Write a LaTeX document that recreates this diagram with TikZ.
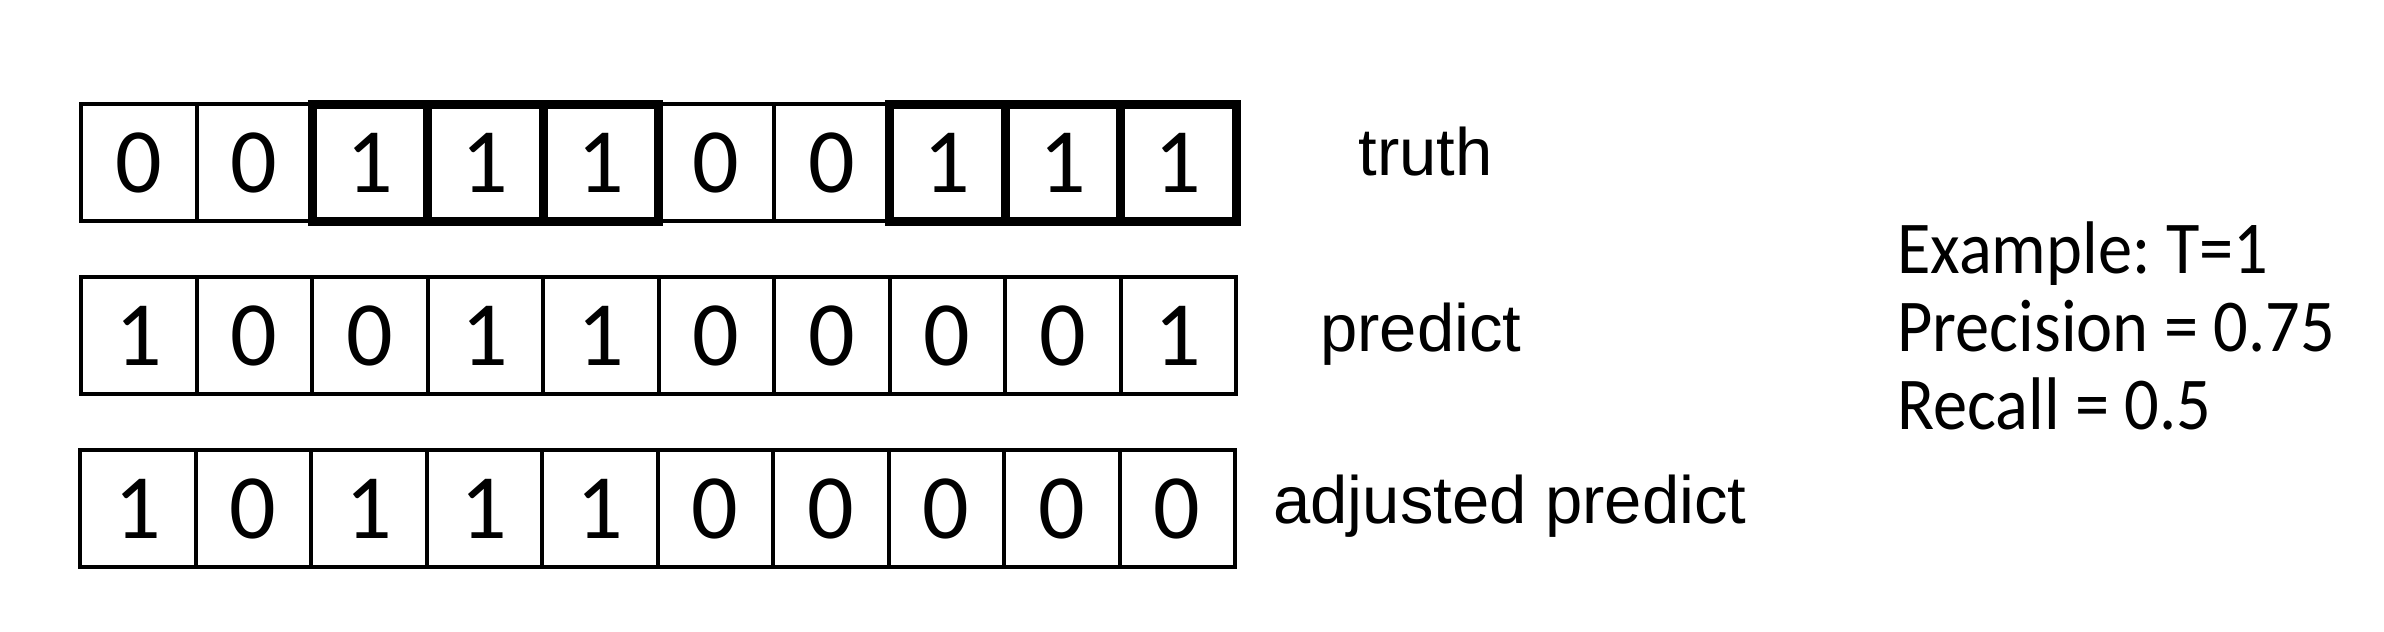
\documentclass[tikz,border=0pt]{standalone}
\usepackage{fontspec}
\usepackage{graphicx}
\setmainfont{Carlito}
\newfontfamily\labelfont{Liberation Sans}
\frenchspacing
\begin{document}
\begin{tikzpicture}[x=0.5pt,y=-0.5pt,
  cell/.style={draw=black, line width=2pt, rectangle, inner sep=0pt,
    minimum width=57.75pt, minimum height=58.5pt,
    font=\fontsize{46}{55}\selectfont},
  thickcell/.style={cell, line width=4.5pt},
  rowlabel/.style={anchor=base west, inner sep=0pt,
    font=\labelfont\fontsize{33.5}{40}\selectfont},
  info/.style={anchor=base west, inner sep=0pt,
    font=\fontsize{34.2}{40}\selectfont}]
\useasboundingbox (0,0) rectangle (2384,632);
\fill[white] (0,0) rectangle (2384,632);
% truth row
\foreach \v [count=\i] in {0,0,1,1,1,0,0,1,1,1} {
  \node[cell] (t\i) at ({81+115.5*(\i-0.5)},162.5) {\v};
}
\foreach \i in {3,4,5,8,9,10} {
  \node[thickcell] (tk\i) at (t\i) {};
}
% predict row
\foreach \v [count=\i] in {1,0,0,1,1,0,0,0,0,1} {
  \node[cell] (p\i) at ({81+115.5*(\i-0.5)},335.5) {\v};
}
% adjusted predict row
\foreach \v [count=\i] in {1,0,1,1,1,0,0,0,0,0} {
  \node[cell] (a\i) at ({80+115.5*(\i-0.5)},508.5) {\v};
}
\node[rowlabel] (ltruth) at (1358,175) {truth};
\node[rowlabel] (lpred) at (1320,351) {predict};
\node[rowlabel] (ladj) at (1273,523) {adjusted predict};
\node[info] (ex) at (1897,273) {\scalebox{1}[1.09]{Example: T=1}};
\node[info] (prec) at (1897,351) {\scalebox{1}[1.09]{Precision = 0.75}};
\node[info] (rec) at (1897,429) {\scalebox{1}[1.09]{Recall = 0.5}};
\end{tikzpicture}
\end{document}
